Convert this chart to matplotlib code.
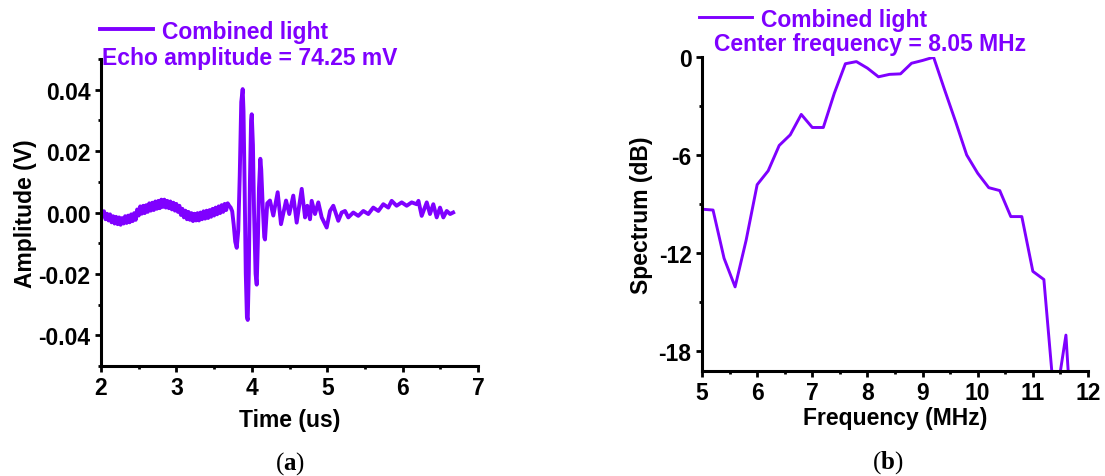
import numpy as np
import matplotlib
matplotlib.use("Agg")
import matplotlib.pyplot as plt
from matplotlib.ticker import MultipleLocator, FormatStrFormatter

plt.rcParams['font.family'] = ['Liberation Sans', 'DejaVu Sans']
plt.rcParams['font.weight'] = 'bold'
plt.rcParams['axes.unicode_minus'] = False
plt.rcParams['mathtext.fontset'] = 'custom'
plt.rcParams['mathtext.rm'] = 'Liberation Serif'
plt.rcParams['mathtext.bf'] = 'Liberation Serif:bold'

purple = '#7f00ff'
fs = 16.5

# (a) echo signal
time_us = [2.00, 2.02, 2.04, 2.06, 2.08, 2.10, 2.12, 2.14, 2.16, 2.18, 2.20, 2.22, 2.24,
           2.26, 2.28, 2.30, 2.32, 2.34, 2.36, 2.38, 2.40, 2.42, 2.44, 2.46, 2.48, 2.50,
           2.52, 2.54, 2.56, 2.58, 2.60, 2.62, 2.64, 2.66, 2.68, 2.70, 2.72, 2.74, 2.76,
           2.78, 2.80, 2.82, 2.84, 2.86, 2.88, 2.90, 2.92, 2.94, 2.96, 2.98, 3.00, 3.02,
           3.04, 3.06, 3.08, 3.10, 3.12, 3.14, 3.16, 3.18, 3.20, 3.22, 3.24, 3.26, 3.28,
           3.30, 3.32, 3.34, 3.36, 3.38, 3.40, 3.42, 3.44, 3.46, 3.48, 3.50, 3.52, 3.54,
           3.56, 3.58, 3.60, 3.62, 3.64, 3.66, 3.68, 3.70, 3.72, 3.74, 3.76, 3.78, 3.80,
           3.82, 3.84, 3.86, 3.879, 3.89, 3.905, 3.92, 3.935, 3.946, 3.96, 3.975, 3.99,
           3.999, 4.015, 4.03, 4.05, 4.065, 4.08, 4.095, 4.113, 4.125, 4.145, 4.165, 4.175,
           4.19, 4.205, 4.241, 4.285, 4.343, 4.387, 4.454, 4.497, 4.55, 4.595, 4.662,
           4.706, 4.736, 4.772, 4.794, 4.838, 4.882, 4.927, 4.993, 5.037, 5.081, 5.147,
           5.192, 5.236, 5.28, 5.346, 5.412, 5.479, 5.545, 5.611, 5.678, 5.744, 5.81,
           5.855, 5.92, 5.988, 6.054, 6.12, 6.187, 6.21, 6.253, 6.32, 6.363, 6.407, 6.452,
           6.496, 6.54, 6.585, 6.63, 6.67]
amplitude_v = [0.0012, -0.0010, 0.0004, -0.0022, -0.0004, -0.0026, -0.0006, -0.0032,
               -0.0012, -0.0036, -0.0014, -0.0038, -0.0016, -0.0040, -0.0018, -0.0036,
               -0.0012, -0.0034, -0.0010, -0.0032, -0.0006, -0.0028, -0.0002, -0.0024,
               0.0010, -0.0010, 0.0020, -0.0004, 0.0022, -0.0002, 0.0024, 0.0002, 0.0030,
               0.0006, 0.0032, 0.0008, 0.0036, 0.0012, 0.0038, 0.0014, 0.0042, 0.0018,
               0.0042, 0.0016, 0.0038, 0.0014, 0.0036, 0.0010, 0.0032, 0.0006, 0.0028,
               0.0002, 0.0022, -0.0008, 0.0012, -0.0016, 0.0006, -0.0022, 0.0002, -0.0024,
               -0.0002, -0.0028, -0.0004, -0.0026, -0.0002, -0.0026, 0.0000, -0.0022,
               0.0004, -0.0020, 0.0006, -0.0018, 0.0008, -0.0014, 0.0012, -0.0010, 0.0016,
               -0.0006, 0.0020, -0.0002, 0.0024, 0.0002, 0.0028, 0.0008, 0.0030, 0.0022,
               0.0016, 0.0004, -0.0040, -0.0095, -0.0115, -0.0060, 0.0120, 0.0360, 0.0402,
               0.0330, 0.0080, -0.0200, -0.0340, -0.0350, -0.0200, 0.0100, 0.0300, 0.0320,
               0.0220, 0.0000, -0.0200, -0.0235, -0.0100, 0.0080, 0.0175, 0.0140, 0.0020,
               -0.0080, -0.0088, -0.0030, 0.0030, 0.0039, -0.0010, 0.0066, -0.0038, 0.0039,
               -0.0005, 0.0055, -0.0033, 0.0077, -0.0016, 0.0022, -0.0022, 0.0038, -0.0005,
               0.0033, -0.0016, -0.0049, 0.0005, 0.0022, -0.0027, 0.0000, 0.0005, -0.0016,
               0.0000, -0.0011, 0.0005, -0.0005, 0.0016, 0.0005, 0.0027, 0.0016, 0.0038,
               0.0022, 0.0033, 0.0022, 0.0033, 0.0027, 0.0038, -0.0011, 0.0033, -0.0005,
               0.0027, -0.0016, 0.0016, -0.0016, 0.0005, -0.0005, 0.0000]

# (b) spectrum
freq_mhz = [5.0, 5.2, 5.4, 5.6, 5.8, 6.0, 6.2, 6.4, 6.6, 6.8, 7.0, 7.2, 7.4, 7.6, 7.8,
            8.0, 8.2, 8.4, 8.6, 8.8, 9.0, 9.2, 9.4, 9.6, 9.8, 10.0, 10.2, 10.4, 10.6,
            10.8, 11.0, 11.2, 11.4, 11.6, 11.8]
spectrum_db = [-9.3, -9.35, -12.3, -14.05, -11.2, -7.8, -6.95, -5.4, -4.75, -3.5, -4.3,
               -4.3, -2.2, -0.4, -0.27, -0.67, -1.2, -1.05, -1.02, -0.37, -0.2, 0.0, -2.0,
               -3.95, -5.98, -7.1, -7.98, -8.16, -9.75, -9.75, -13.1, -13.6, -21.4, -17.0,
               -27.8]

fig = plt.figure(figsize=(11.05, 4.77), dpi=100)
ax1 = fig.add_axes([0.0914, 0.2306, 0.3412, 0.6436])
ax2 = fig.add_axes([0.6353, 0.220, 0.3493, 0.658])

for ax in (ax1, ax2):
    for s in ('top', 'right'):
        ax.spines[s].set_visible(False)
    for s in ('left', 'bottom'):
        ax.spines[s].set_linewidth(2.2)
    ax.tick_params(which='major', direction='out', length=4.5, width=2, labelsize=fs, pad=3)
    ax.tick_params(which='minor', direction='out', length=2.5, width=2)

ax1.plot(time_us, amplitude_v, color=purple, lw=2.8, label='Combined light')
ax1.set_xlim(2, 7)
ax1.set_ylim(-0.05, 0.05)
ax1.xaxis.set_major_locator(MultipleLocator(1))
ax1.xaxis.set_minor_locator(MultipleLocator(0.5))
ax1.yaxis.set_major_locator(MultipleLocator(0.02))
ax1.yaxis.set_minor_locator(MultipleLocator(0.01))
ax1.yaxis.set_major_formatter(FormatStrFormatter('%.2f'))
ax1.set_xlabel('Time (us)', fontsize=fs, fontweight='bold', labelpad=6)
ax1.set_ylabel('Amplitude (V)', fontsize=fs, fontweight='bold', labelpad=1)
ax1.legend(loc='center left', bbox_to_anchor=(100 / 1105, 1 - 32 / 477),
           bbox_transform=fig.transFigure, frameon=False, fontsize=fs,
           handlelength=2.3, handletextpad=0.4, borderpad=0, borderaxespad=0,
           labelcolor=purple)
fig.text(102 / 1105, 1 - 59 / 477, 'Echo amplitude = 74.25 mV', color=purple,
         fontsize=fs, fontweight='bold', ha='left', va='center')

ax2.plot(freq_mhz, spectrum_db, color=purple, lw=2.1, label='Combined light')
ax2.set_xlim(5, 12)
ax2.set_ylim(-19.2, 0)
ax2.xaxis.set_major_locator(MultipleLocator(1))
ax2.xaxis.set_minor_locator(MultipleLocator(0.5))
ax2.yaxis.set_major_locator(MultipleLocator(6))
ax2.yaxis.set_minor_locator(MultipleLocator(3))
ax2.set_xlabel('Frequency (MHz)', fontsize=fs, fontweight='bold', labelpad=1)
ax2.set_ylabel('Spectrum (dB)', fontsize=fs, fontweight='bold', labelpad=4)
ax2.legend(loc='center left', bbox_to_anchor=(699 / 1105, 1 - 20 / 477),
           bbox_transform=fig.transFigure, frameon=False, fontsize=fs,
           handlelength=2.3, handletextpad=0.4, borderpad=0, borderaxespad=0,
           labelcolor=purple)
fig.text(714 / 1105, 1 - 45 / 477, 'Center frequency = 8.05 MHz', color=purple,
         fontsize=fs, fontweight='bold', ha='left', va='center')

for ax in (ax1, ax2):
    for lab in ax.get_xticklabels() + ax.get_yticklabels():
        lab.set_fontweight('bold')

fig.text(290 / 1105, 1 - 464 / 477, r'($\mathbf{a}$)', fontsize=18, ha='center',
         va='center', family='Liberation Serif', fontweight='normal')
fig.text(888 / 1105, 1 - 463 / 477, r'($\mathbf{b}$)', fontsize=18, ha='center',
         va='center', family='Liberation Serif', fontweight='normal')

fig.savefig('out.png', dpi=100)
